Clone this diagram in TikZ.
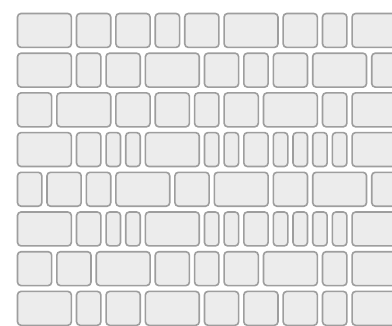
\documentclass[tikz,border=0pt]{standalone}
\usepackage{tikz}
\definecolor{tilefill}{RGB}{236,236,236}
\definecolor{tileline}{RGB}{158,158,158}
\tikzset{tile/.style={fill=tilefill,draw=tileline,line width=1.6pt,rounded corners=3.5pt}}
\def\tileU{9.84}
\def\tileG{3.6}
\def\tileH{35.5}
\def\tilerow#1#2{%
  \gdef\tileacc{0}%
  \foreach \w in {#2}{%
    \pgfmathsetmacro\tilexa{16.7+\tileacc*\tileU+0.8}%
    \pgfmathsetmacro\tilexb{16.7+(\tileacc+\w)*\tileU-\tileG-0.8}%
    \pgfmathsetmacro\tileya{12.7+39.7*#1+0.8}%
    \pgfmathsetmacro\tileyb{12.7+39.7*#1+\tileH-0.8}%
    \draw[tile] (\tilexa,\tileya) rectangle (\tilexb,\tileyb);
    \pgfmathsetmacro\tiletmp{\tileacc+\w}\xdef\tileacc{\tiletmp}%
  }}
\begin{document}
\begin{tikzpicture}[x=1pt,y=-1pt]
\useasboundingbox (0,0) rectangle (392,325);
\fill[white] (0,0) rectangle (392,325);
\clip (0,0) rectangle (392,325);
\tilerow{0}{6,4,4,3,4,6,4,3,6}
\tilerow{1}{6,3,4,6,4,3,4,6,6}
\tilerow{2}{4,6,4,4,3,4,6,3,6}
\tilerow{3}{6,3,2,2,6,2,2,3,2,2,2,2,6}
\tilerow{4}{3,4,3,6,4,6,4,6,6}
\tilerow{5}{6,3,2,2,6,2,2,3,2,2,2,2,6}
\tilerow{6}{4,4,6,4,3,4,6,3,6}
\tilerow{7}{6,3,4,6,4,4,4,3,6}
\end{tikzpicture}
\end{document}
